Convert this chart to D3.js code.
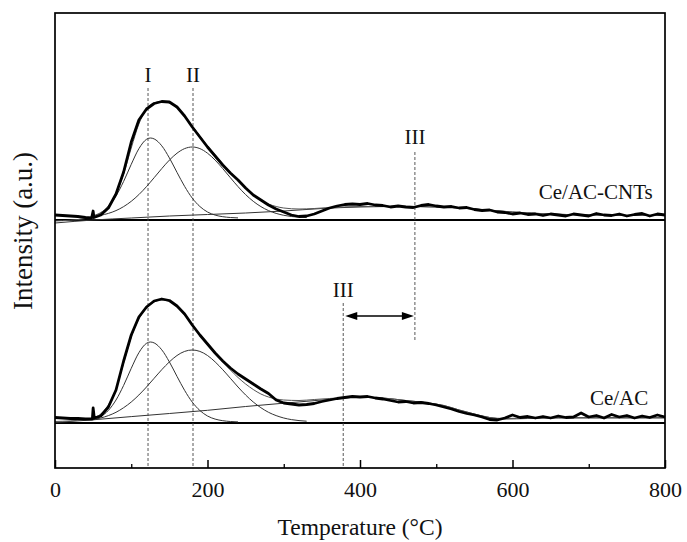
<!DOCTYPE html>
<html><head><meta charset="utf-8">
<script src="https://cdn.jsdelivr.net/npm/d3@7"></script>
<style>
body{margin:0;background:#fff;}
text{font-family:"Liberation Serif","Times New Roman",serif;fill:#111;}
</style></head>
<body><svg id="chart" width="687" height="542"></svg>
<script>
// ---------- DATA (temperature °C, intensity a.u.) ----------
const xTicksMajor = [0, 200, 400, 600, 800];
const xTicksMinor = [100, 300, 500, 700];
const sampleTop = "Ce/AC-CNTs";
const sampleBottom = "Ce/AC";
const topOffset = 203;   // vertical stacking offset of upper spectrum

// Ce/AC-CNTs measured profile
const topData = [[0,5],[10,4.5],[20,4],[30,3.5],[40,2.5],[48,2],[50,9],[51,2.5],[60,5],[70,12],[80,26],[90,48],[100,78],[110,100],[120,111],[130,116.5],[140,118.5],[150,118],[160,113],[170,104],[180,93],[190,83],[200,73],[210,64],[220,55],[230,47],[240,40],[250,32],[260,25],[270,20],[280,15],[290,11],[300,8],[310,5],[320,3.5],[330,4],[340,6],[350,9],[360,12],[370,14],[380,15.5],[390,16],[400,15.5],[410,16.5],[420,15],[430,14.5],[440,13],[450,14],[460,13],[470,12.5],[480,14.5],[490,15.5],[500,14],[510,13],[520,13.5],[530,12],[540,12.5],[550,10.5],[560,9.5],[570,10],[580,8],[590,7.5],[600,6],[610,7],[620,5.5],[630,6],[640,4.5],[650,6],[660,5],[670,4],[680,6],[690,5],[700,4],[710,6.5],[720,5],[730,4.5],[740,6],[750,4],[760,5.5],[770,6.5],[780,4],[790,6],[800,5]];
const topPeakI = [[50,4.2],[60,7.4],[70,13.6],[80,24.0],[90,38.6],[100,55.7],[110,71.3],[120,80.7],[125,82],[130,81.1],[140,74.2],[150,62.1],[160,47.6],[170,33.6],[180,21.9],[190,13.5],[200,8.0],[210,4.9],[220,3.3],[230,2.5],[240,2.1]];
const topPeakII = [[50,3.5],[60,4.7],[70,6.6],[80,9.4],[90,13.4],[100,18.7],[110,25.4],[120,33.4],[130,42.3],[140,51.4],[150,59.9],[160,66.8],[170,71.4],[180,73],[190,71.4],[200,66.8],[210,59.9],[220,51.4],[230,42.3],[240,33.4],[250,25.4],[260,18.7],[270,13.4],[280,9.4],[290,6.6],[300,4.7],[310,3.5],[320,2.8],[330,2.4]];
const topPeakIII = [[0,-3],[50,0],[100,2],[150,4],[200,5.5],[250,7],[300,9],[350,11.5],[400,13],[450,13.5],[500,13],[550,11],[600,8],[650,6],[700,5],[750,4.5],[800,4.5]];
const topFit = [[0,-1],[40,1.5],[50,3],[60,7],[70,14],[80,27],[90,46],[100,72],[110,96],[120,111],[130,117],[140,118.5],[150,117],[160,112],[170,104],[180,94],[190,84],[200,74],[210,65],[220,56],[230,47.5],[240,39.5],[250,32],[260,25.5],[270,20],[280,16],[290,13.5],[300,12],[320,11],[340,11.5],[360,12.5],[400,13.5],[450,13.8],[500,13],[550,11],[600,8],[650,6],[700,5],[800,4.5]];

// Ce/AC measured profile
const botData = [[0,5.5],[10,5],[20,4.5],[30,4.5],[40,4],[49,4],[50,15],[51.5,5],[60,7],[70,16],[80,33],[90,62],[100,88],[110,106],[120,116],[130,122],[140,124],[150,122.5],[160,117],[170,109],[180,98],[190,88],[200,79],[210,70],[220,62],[230,55],[240,49],[250,44],[260,39],[270,34],[280,29.5],[290,23],[300,20],[310,19],[320,18],[330,18.5],[340,19.5],[350,21.5],[360,23],[370,24.5],[380,25.5],[390,26.5],[400,26],[410,26.5],[420,25],[430,24],[440,22.5],[450,21],[460,21.5],[470,20],[480,20.5],[490,19.5],[500,18],[510,16],[520,14],[530,11.5],[540,9.5],[550,8],[560,6],[570,3.5],[580,3],[590,5],[600,8],[610,5.5],[620,6.5],[630,5],[640,6.5],[650,5],[660,7],[670,5.5],[680,6],[690,10],[700,6],[710,7.5],[720,5],[730,8.5],[740,6],[750,7.5],[760,5],[770,7],[780,5.5],[790,8],[800,6]];
const botPeakI = [[50,3.2],[60,6.4],[70,12.6],[80,23.0],[90,37.6],[100,54.7],[110,70.3],[120,79.7],[125,81],[130,80.1],[140,73.2],[150,61.1],[160,46.6],[170,32.6],[180,20.9],[190,12.5],[200,7.0],[210,3.9],[220,2.3],[230,1.5],[240,1.1]];
const botPeakII = [[50,3.4],[60,5.0],[70,7.4],[80,10.7],[90,15.3],[100,21.0],[110,28.0],[120,36.0],[130,44.7],[140,53.3],[150,61.1],[160,67.5],[170,71.6],[180,73],[190,71.6],[200,67.5],[210,61.1],[220,53.3],[230,44.7],[240,36.0],[250,28.0],[260,21.0],[270,15.3],[280,10.7],[290,7.4],[300,5.0],[310,3.4],[320,2.4],[330,1.8]];
const botPeakIII = [[0,0.5],[50,3.2],[100,6.4],[150,9.5],[200,12.7],[250,16.5],[300,19.8],[350,23],[400,25.8],[430,25],[460,22.5],[490,20],[510,17.5],[530,13],[550,9],[570,5.5],[590,4],[620,4.5],[660,5],[700,5],[800,5]];
const botFit = [[0,1.5],[40,3.5],[50,5],[60,9],[70,18],[80,34],[90,60],[100,86],[110,104],[120,115],[130,121],[140,123],[150,121.5],[160,116],[170,108],[180,98],[190,88.5],[200,79],[210,70],[220,61],[230,53],[240,45.5],[250,39],[260,33.5],[270,29],[280,26],[290,24],[300,23],[320,22.5],[340,23.5],[360,24.5],[380,25.5],[400,26],[430,25],[460,22.5],[490,20],[510,17.5],[530,13],[550,9],[570,5.5],[590,4.5],[620,5],[700,5.5],[800,5.5]];

// peak position markers (°C)
const peakMarkI = 122, peakMarkII = 181;
const peakMarkIIItop = 472, peakMarkIIIbot = 378;

// ---------- CHART ----------
const svg = d3.select("#chart");
const L = 55, R = 665, T = 13, B = 468;
const x = d3.scaleLinear().domain([0, 800]).range([L, R]);
const y = d3.scaleLinear().domain([-45, 410]).range([B, T]);

const lineMono = off => d3.line().x(d => x(d[0])).y(d => y(d[1] + off)).curve(d3.curveMonotoneX);
const lineLin = off => d3.line().x(d => x(d[0])).y(d => y(d[1] + off));

const g = svg.append("g");

// baselines
[0, topOffset].forEach(o => {
  g.append("line").attr("x1", L).attr("x2", R).attr("y1", y(o)).attr("y2", y(o))
    .attr("stroke", "#000").attr("stroke-width", 2);
});

// dashed marker lines
function vdash(t, v1, v2) {
  g.append("line").attr("x1", x(t)).attr("x2", x(t)).attr("y1", y(v1)).attr("y2", y(v2))
    .attr("stroke", "#444").attr("stroke-width", 0.9).attr("stroke-dasharray", "3,2");
}
vdash(peakMarkI, 335, -45);
vdash(peakMarkII, 335, -45);
vdash(peakMarkIIItop, 271, 81);
vdash(peakMarkIIIbot, 120, -45);

// components & fits
function drawSet(data, p1, p2, p3, fit, off) {
  [p3, p1, p2].forEach(p => g.append("path").datum(p).attr("d", lineMono(off))
    .attr("fill", "none").attr("stroke", "#333").attr("stroke-width", 1));
  g.append("path").datum(fit).attr("d", lineMono(off))
    .attr("fill", "none").attr("stroke", "#555").attr("stroke-width", 1);
  g.append("path").datum(data).attr("d", lineLin(off))
    .attr("fill", "none").attr("stroke", "#000").attr("stroke-width", 2.8)
    .attr("stroke-linejoin", "round");
}
drawSet(topData, topPeakI, topPeakII, topPeakIII, topFit, topOffset);
drawSet(botData, botPeakI, botPeakII, botPeakIII, botFit, 0);

// arrow for region III shift
const ay = y(107), ax1 = x(peakMarkIIIbot) + 2, ax2 = x(peakMarkIIItop) - 1;
g.append("line").attr("x1", ax1 + 8).attr("x2", ax2 - 8).attr("y1", ay).attr("y2", ay)
  .attr("stroke", "#000").attr("stroke-width", 1.3);
g.append("path").attr("d", `M${ax1},${ay} L${ax1 + 12},${ay - 4} L${ax1 + 12},${ay + 4} Z`).attr("fill", "#000");
g.append("path").attr("d", `M${ax2},${ay} L${ax2 - 12},${ay - 4} L${ax2 - 12},${ay + 4} Z`).attr("fill", "#000");

// labels
const fs = 21;
function label(txt, t, v, anchor) {
  g.append("text").attr("x", x(t)).attr("y", y(v)).attr("text-anchor", anchor || "middle")
    .attr("font-size", fs).text(txt);
}
label("I", peakMarkI, 341);
label("II", peakMarkII, 341);
label("III", peakMarkIIItop, 279);
label("III", peakMarkIIIbot, 126);
label(sampleTop, 784, 224, "end");
label(sampleBottom, 778, 18, "end");

// frame
svg.append("rect").attr("x", L).attr("y", T).attr("width", R - L).attr("height", B - T)
  .attr("fill", "none").attr("stroke", "#000").attr("stroke-width", 1.7);

// x axis
const axMajor = svg.append("g").attr("transform", `translate(0,${B})`)
  .call(d3.axisBottom(x).tickValues(xTicksMajor).tickSize(-8).tickSizeOuter(0).tickPadding(13));
axMajor.select(".domain").remove();
axMajor.selectAll("line").attr("stroke", "#000").attr("stroke-width", 1.5);
axMajor.selectAll("text").attr("font-size", 22).attr("fill", "#111")
  .attr("font-family", '"Liberation Serif","Times New Roman",serif');
const axMinor = svg.append("g").attr("transform", `translate(0,${B})`)
  .call(d3.axisBottom(x).tickValues(xTicksMinor).tickSize(-4).tickFormat(""));
axMinor.select(".domain").remove();
axMinor.selectAll("line").attr("stroke", "#000").attr("stroke-width", 1.3);

// axis titles
svg.append("text").attr("x", (L + R) / 2).attr("y", 535).attr("text-anchor", "middle")
  .attr("font-size", 23.5).text("Temperature (°C)");
svg.append("text").attr("transform", `translate(32,${231}) rotate(-90)`).attr("text-anchor", "middle")
  .attr("font-size", 27).text("Intensity (a.u.)");
</script></body></html>
